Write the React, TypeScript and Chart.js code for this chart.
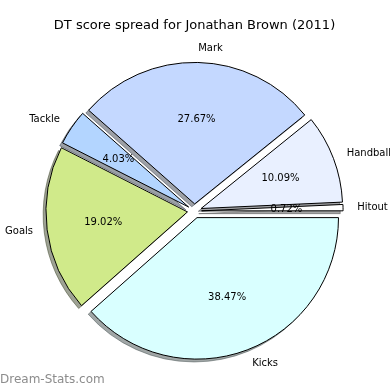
import React, { useEffect, useRef } from 'react';
import { Chart, registerables } from 'chart.js';

Chart.register(...registerables);

const TITLE = 'DT score spread for Jonathan Brown (2011)';
const categories = ['Kicks', 'Goals', 'Tackle', 'Mark', 'Handball', 'Hitout'];
const percentages = [38.47, 19.02, 4.03, 27.67, 10.09, 0.72];
const sliceColors = ['#d9ffff', '#d0ea8a', '#b3d5ff', '#c4d8ff', '#e9f0ff', '#ffffff'];
const EXPLODE = 0.05;
const WATERMARK = 'Dream-Stats.com';
const FONT = '"DejaVu Sans", sans-serif';

function hexToRgb(h: string) {
  const n = parseInt(h.slice(1), 16);
  return { r: (n >> 16) & 255, g: (n >> 8) & 255, b: n & 255 };
}

const piePlugin = {
  id: 'mplPie',
  afterDatasetsUpdate(chart: any) {
    const meta = chart.getDatasetMeta(0);
    meta.data.forEach((el: any) => {
      const mid = (el.startAngle + el.endAngle) / 2;
      const d = EXPLODE * el.outerRadius;
      el.x += Math.cos(mid) * d;
      el.y += Math.sin(mid) * d;
    });
  },
  beforeDatasetsDraw(chart: any) {
    const ctx = chart.ctx as CanvasRenderingContext2D;
    const meta = chart.getDatasetMeta(0);
    meta.data.forEach((el: any, i: number) => {
      const r = el.outerRadius;
      const ox = -0.02 * r;
      const oy = 0.02 * r;
      const c = hexToRgb(sliceColors[i]);
      const col = `rgba(${c.r * 0.3},${c.g * 0.3},${c.b * 0.3},0.5)`;
      ctx.save();
      ctx.beginPath();
      ctx.moveTo(el.x + ox, el.y + oy);
      ctx.arc(el.x + ox, el.y + oy, r, el.startAngle, el.endAngle);
      ctx.closePath();
      ctx.fillStyle = col;
      ctx.fill();
      ctx.strokeStyle = col;
      ctx.lineWidth = 1;
      ctx.stroke();
      ctx.restore();
    });
  },
  afterDatasetsDraw(chart: any) {
    const ctx = chart.ctx as CanvasRenderingContext2D;
    const meta = chart.getDatasetMeta(0);
    ctx.save();
    ctx.font = `10px ${FONT}`;
    ctx.fillStyle = '#000';
    ctx.textBaseline = 'middle';
    meta.data.forEach((el: any, i: number) => {
      const r = el.outerRadius;
      const mid = (el.startAngle + el.endAngle) / 2;
      const cx = Math.cos(mid);
      const cy = Math.sin(mid);
      ctx.textAlign = cx > 0 ? 'left' : 'right';
      ctx.fillText(categories[i], el.x + 1.1 * r * cx, el.y + 1.1 * r * cy);
      ctx.textAlign = 'center';
      ctx.fillText(percentages[i].toFixed(2) + '%', el.x + 0.6 * r * cx, el.y + 0.6 * r * cy);
    });
    ctx.font = `12px ${FONT}`;
    ctx.fillStyle = '#8c8c8c';
    ctx.textAlign = 'left';
    ctx.fillText(WATERMARK, 0, 380);
    ctx.restore();
  },
};

export default function App() {
  const ref = useRef<HTMLCanvasElement>(null);
  useEffect(() => {
    if (!ref.current) return;
    const chart = new Chart(ref.current, {
      type: 'pie',
      data: {
        labels: categories,
        datasets: [
          {
            data: percentages,
            backgroundColor: sliceColors,
            borderColor: '#000',
            borderWidth: 1,
            radius: 141.5,
          } as any,
        ],
      },
      options: {
        responsive: false,
        animation: false,
        events: [],
        rotation: 90,
        layout: { padding: { left: 0, right: 1, top: 0, bottom: 1.5 } },
        plugins: {
          legend: { display: false },
          tooltip: { enabled: false },
          title: {
            display: true,
            text: TITLE,
            color: '#000',
            font: { family: FONT, size: 13, weight: 'normal' },
            padding: { top: 17.9, bottom: 0 },
          },
        },
      } as any,
      plugins: [piePlugin],
    });
    return () => chart.destroy();
  }, []);
  return (
    <div style={{ position: 'absolute', left: 0, top: 0 }}>
      <canvas ref={ref} width={390} height={390} style={{ display: 'block' }} />
    </div>
  );
}
